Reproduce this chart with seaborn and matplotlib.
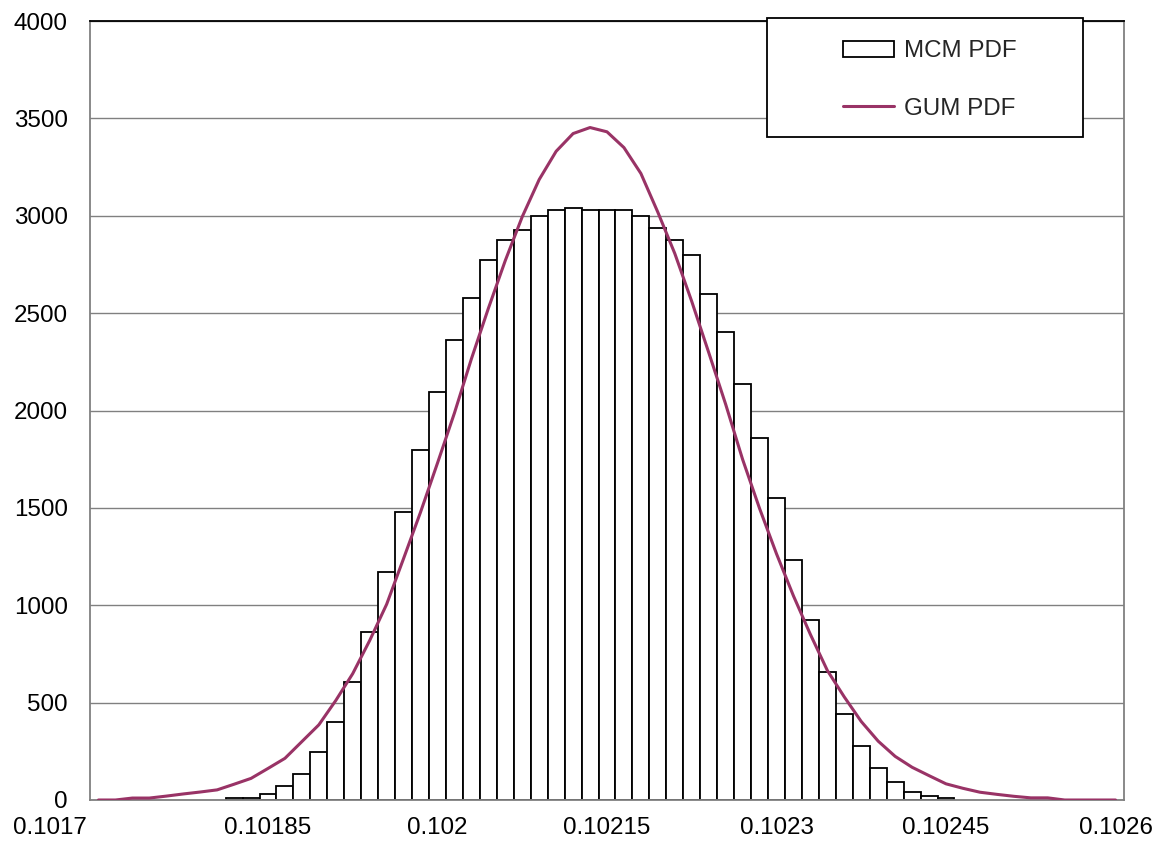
import numpy as np
import pandas as pd
import matplotlib
matplotlib.use("Agg")
import matplotlib.pyplot as plt
import matplotlib.transforms as mtransforms
from matplotlib.patches import Rectangle
import seaborn as sns

# ---- data ----
categories = [0.1017, 0.101715, 0.10173, 0.101745, 0.10176, 0.101775, 0.10179, 0.101805,
              0.10182, 0.101835, 0.10185, 0.101865, 0.10188, 0.101895, 0.10191, 0.101925,
              0.10194, 0.101955, 0.10197, 0.101985, 0.102, 0.102015, 0.10203, 0.102045,
              0.10206, 0.102075, 0.10209, 0.102105, 0.10212, 0.102135, 0.10215, 0.102165,
              0.10218, 0.102195, 0.10221, 0.102225, 0.10224, 0.102255, 0.10227, 0.102285,
              0.1023, 0.102315, 0.10233, 0.102345, 0.10236, 0.102375, 0.10239, 0.102405,
              0.10242, 0.102435, 0.10245, 0.102465, 0.10248, 0.102495, 0.10251, 0.102525,
              0.10254, 0.102555, 0.10257, 0.102585, 0.1026]

mcm_counts = [0, 0, 0, 0, 0, 0, 0, 0,
              9, 9, 31, 72, 133, 247, 400, 607,
              864, 1172, 1480, 1799, 2097, 2364, 2580, 2775,
              2878, 2929, 3001, 3032, 3042, 3032, 3032, 3032,
              3001, 2939, 2878, 2796, 2600, 2405, 2138, 1860,
              1552, 1234, 925, 658, 442, 278, 165, 93,
              42, 21, 11, 0, 0, 0, 0, 0,
              0, 0, 0, 0, 0]

gum_pdf = [0, 0, 10, 10, 20, 31, 41, 52,
           81, 111, 162, 214, 300, 386, 511, 649,
           819, 1005, 1240, 1478, 1730, 1987, 2265, 2524,
           2770, 2995, 3186, 3331, 3422, 3453, 3431, 3350,
           3217, 3018, 2806, 2560, 2298, 2032, 1749, 1497,
           1264, 1048, 850, 665, 529, 403, 302, 224,
           168, 125, 83, 60, 40, 29, 19, 11,
           11, 0, 0, 0, 0]

x_tick_labels = ["0.1017", "0.10185", "0.102", "0.10215", "0.1023", "0.10245", "0.1026"]
y_ticks = [0, 500, 1000, 1500, 2000, 2500, 3000, 3500, 4000]
series_names = ["MCM PDF", "GUM PDF"]

# ---- figure ----
sns.set_theme(style="white")
plt.rcParams['font.family'] = ['Liberation Sans', 'DejaVu Sans']

FS = 17.4
fig = plt.figure(figsize=(11.59, 8.49), dpi=100)
ax = fig.add_axes([90 / 1159, 1 - 800 / 849, (1124 - 90) / 1159, (800 - 21) / 849])

cats = np.array(categories)
counts = np.array(mcm_counts, dtype=float)
step = cats[1] - cats[0]
nz = counts > 0
mcm_df = pd.DataFrame({"x": cats[nz], "count": counts[nz]})

sns.barplot(data=mcm_df, x="x", y="count", ax=ax, native_scale=True, orient="x",
            width=1.0, color="white", edgecolor="black", linewidth=1.3,
            saturation=1, errorbar=None, label=series_names[0], zorder=2)

gum_df = pd.DataFrame({"x": cats, "y": gum_pdf})
sns.lineplot(data=gum_df, x="x", y="y", ax=ax, color="#993366", linewidth=2.2,
             label=series_names[1], zorder=3)

ax.set_xlim(cats[0] - step / 2, cats[-1] + step / 2)
ax.set_ylim(0, 4000)
ax.set_xticks(cats[::10])
ax.set_xticklabels(x_tick_labels)
ax.set_yticks(y_ticks)
ax.set_yticklabels([str(v) for v in y_ticks])
ax.set_xlabel("")
ax.set_ylabel("")
ax.tick_params(axis="both", length=0, labelsize=FS, colors="black")
ax.tick_params(axis="y", pad=16)
ax.tick_params(axis="x", pad=12)

# first x label sits left of the axis corner, as in the reference
first = ax.get_xticklabels()[0]
first.set_horizontalalignment("right")
first.set_transform(first.get_transform() +
                    mtransforms.ScaledTranslation(-12 / 100, 0, fig.dpi_scale_trans))

ax.yaxis.grid(True, color="#808080", linewidth=1.0, zorder=0)
ax.xaxis.grid(False)
ax.set_axisbelow(True)
for side in ["left", "bottom", "right"]:
    ax.spines[side].set_color("#808080")
    ax.spines[side].set_linewidth(1.3)
ax.spines["top"].set_color("black")
ax.spines["top"].set_linewidth(1.3)
if ax.get_legend() is not None:
    ax.get_legend().remove()

# legend box
fig.patches.append(Rectangle((767 / 1159, 1 - 137 / 849), (1083 - 767) / 1159, (137 - 18) / 849,
                             transform=fig.transFigure, facecolor="white", edgecolor="black",
                             linewidth=1.3, zorder=5))
handles, labels = ax.get_legend_handles_labels()
order = [labels.index(n) for n in series_names]
leg = fig.legend([handles[i] for i in order], [labels[i] for i in order],
                 loc="center", bbox_to_anchor=(930 / 1159, 1 - 80 / 849),
                 frameon=False, fontsize=FS, handlelength=2.1, handleheight=0.62,
                 handletextpad=0.4, labelspacing=1.45)
leg.set_zorder(6)

fig.savefig("out.png", dpi=100, facecolor="white")
